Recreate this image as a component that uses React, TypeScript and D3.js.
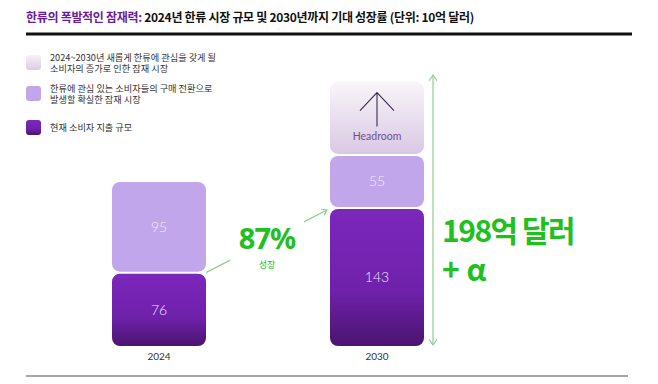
import * as d3 from 'd3';

const categories = ['2024', '2030'];
const currentSpend = [76, 143];
const certainMarket = [95, 55];
const headroom = [0, 77];
const growthPct = '87%';
const totalLabel = ['198억 달러', '+ α'];

const legendItems = [
  ['2024~2030년 새롭게 한류에 관심을 갖게 될', '소비자의 증가로 인한 잠재 시장'],
  ['한류에 관심 있는 소비자들의 구매 전환으로', '발생할 확실한 잠재 시장'],
  ['현재 소비자 지출 규모'],
];

const W = 658;
const H = 384;
const GREEN = '#20c020';
const LINE_GREEN = '#8ed08e';
const LIGHT = '#c2a6ec';
const KR = '"Noto Sans CJK KR", "Noto Sans", sans-serif';
const NUM = 'Lato, "Noto Sans", sans-serif';

export default function App() {
  const x = d3.scalePoint<string>().domain(categories).range([159, 377]);
  const y = d3.scaleLinear().domain([0, 275]).range([346, 80.6]);
  const bw = 94;

  // stacked segments: current (dark), certain (light), headroom (faded)
  const rows = categories.map((c, i) => ({ c, cur: currentSpend[i], cert: certainMarket[i], head: headroom[i] }));
  const stack = d3.stack<any>().keys(['cur', 'cert', 'head'])(rows);
  const fills = ['url(#gDark)', LIGHT, 'url(#gHead)'];
  const labelColors = ['#f1e2ff', '#efe6fb', '#6f4f8f'];

  // growth arrow between bar tops
  const p0: [number, number] = [x('2024')! + bw / 2, y(currentSpend[0])];
  const p1: [number, number] = [x('2030')! - bw / 2 - 3, y(currentSpend[1]) + 2];
  const lerp = (t: number): [number, number] => [p0[0] + (p1[0] - p0[0]) * t, p0[1] + (p1[1] - p0[1]) * t];
  const a1 = lerp(0.2);
  const a2 = lerp(0.81);
  const ang = Math.atan2(p1[1] - p0[1], p1[0] - p0[0]);
  const head = (p: [number, number], a: number, s = 6) => {
    const l = [p[0] - s * Math.cos(a - 0.6), p[1] - s * Math.sin(a - 0.6)];
    const r = [p[0] - s * Math.cos(a + 0.6), p[1] - s * Math.sin(a + 0.6)];
    return `M${l[0]},${l[1]}L${p[0]},${p[1]}L${r[0]},${r[1]}`;
  };

  const vx = 433;
  const vTop = 75;
  const vBot = 345;

  const hx = x('2030')!;
  const hTop = y(stack[2][1][1]);

  return (
    <svg width={W} height={H} style={{ position: 'absolute', left: 0, top: 0 }}>
      <defs>
        <linearGradient id="gDark" x1="0" y1="0" x2="0" y2="1">
          <stop offset="0" stopColor="#7b27bb" />
          <stop offset="0.6" stopColor="#6f21ab" />
          <stop offset="1" stopColor="#4a156f" />
        </linearGradient>
        <linearGradient id="gHead" x1="0" y1="0" x2="0" y2="1">
          <stop offset="0" stopColor="#f8f6f9" />
          <stop offset="1" stopColor="#d9c8e4" />
        </linearGradient>
        <linearGradient id="gLeg" x1="0" y1="0" x2="0" y2="1">
          <stop offset="0" stopColor="#f6f2f8" />
          <stop offset="1" stopColor="#dccde6" />
        </linearGradient>
      </defs>
      <rect width={W} height={H} fill="#fff" />

      {/* title */}
      <text x={26} y={22} fontFamily={KR} fontSize={12} fontWeight={600} fill="#111" letterSpacing={-0.3}>
        <tspan fill="#6a1d9a">한류의 폭발적인 잠재력:</tspan>
        <tspan> 2024년 한류 시장 규모 및 2030년까지 기대 성장률 (단위: 10억 달러)</tspan>
      </text>
      <line x1={26} x2={632} y1={34} y2={34} stroke="#111" strokeWidth={3} />

      {/* legend */}
      {legendItems.map((lines, i) => {
        const top = [55, 86, 120][i];
        return (
          <g key={i}>
            <rect x={26} y={top} width={15} height={15} rx={3}
              fill={['url(#gLeg)', LIGHT, 'url(#gDark)'][i]} />
            {lines.map((t, j) => (
              <text key={j} x={50} y={top + 5.5 + j * 11.5 + (lines.length === 1 ? 5 : 0)}
                fontFamily={KR} fontSize={9.2} fill="#333">{t}</text>
            ))}
          </g>
        );
      })}

      {/* bars */}
      {stack.map((s, k) => s.map((d, i) => {
        if (d[1] - d[0] <= 0) return null;
        const cx = x(categories[i])!;
        const top = y(d[1]) + 1;
        const bot = y(d[0]) - (k === 0 ? 0 : 1);
        return (
          <g key={`${k}-${i}`}>
            <rect x={cx - bw / 2} y={top} width={bw} height={bot - top} rx={8} fill={fills[k]} />
            {k < 2 && (
              <text x={cx} y={(top + bot) / 2 + 5} textAnchor="middle" fontFamily={NUM}
                fontWeight={300} fontSize={14} fill={labelColors[k]}>
                {k === 0 ? currentSpend[i] : certainMarket[i]}
              </text>
            )}
          </g>
        );
      }))}

      {/* headroom icon */}
      <path d={`M${hx - 17},${hTop + 30}L${hx},${hTop + 12}L${hx + 17},${hTop + 30}M${hx},${hTop + 12}L${hx},${hTop + 46}`}
        fill="none" stroke="#3d2a4f" strokeWidth={1.1} />
      <text x={hx} y={hTop + 59} textAnchor="middle" fontFamily={NUM} fontSize={10.5} fill="#6f4f8f">Headroom</text>

      {/* year labels */}
      {categories.map(c => (
        <text key={c} x={x(c)} y={360} textAnchor="middle" fontFamily={NUM} fontSize={10} fill="#333">{c}</text>
      ))}

      {/* growth arrow */}
      <line x1={p0[0]} y1={p0[1]} x2={a1[0]} y2={a1[1]} stroke={LINE_GREEN} strokeWidth={1.2} />
      <line x1={a2[0]} y1={a2[1]} x2={p1[0]} y2={p1[1]} stroke={LINE_GREEN} strokeWidth={1.2} />
      <path d={head(p1, ang)} fill="none" stroke={LINE_GREEN} strokeWidth={1.2} />
      <text x={267} y={249} textAnchor="middle" fontFamily={'"Noto Sans", sans-serif'} fontWeight={700}
        fontSize={29} fill={GREEN} letterSpacing={-1}>{growthPct}</text>
      <text x={267} y={268} textAnchor="middle" fontFamily={KR} fontSize={9} fill={GREEN}>성장</text>

      {/* total span arrow */}
      <line x1={vx} x2={vx} y1={vTop} y2={vBot} stroke={LINE_GREEN} strokeWidth={1.2} />
      <path d={head([vx, vTop], -Math.PI / 2, 7)} fill="none" stroke={LINE_GREEN} strokeWidth={1.2} />
      <path d={head([vx, vBot], Math.PI / 2, 7)} fill="none" stroke={LINE_GREEN} strokeWidth={1.2} />
      <text x={442} y={242} fontFamily={KR} fontWeight={700} fontSize={30} fill={GREEN} letterSpacing={-1.5}>{totalLabel[0]}</text>
      <text x={442} y={281} fontFamily={KR} fontWeight={700} fontSize={30} fill={GREEN}>{totalLabel[1]}</text>

      {/* bottom rule */}
      <line x1={26} x2={628} y1={376} y2={376} stroke="#8a8a8a" strokeWidth={1.5} />
    </svg>
  );
}
